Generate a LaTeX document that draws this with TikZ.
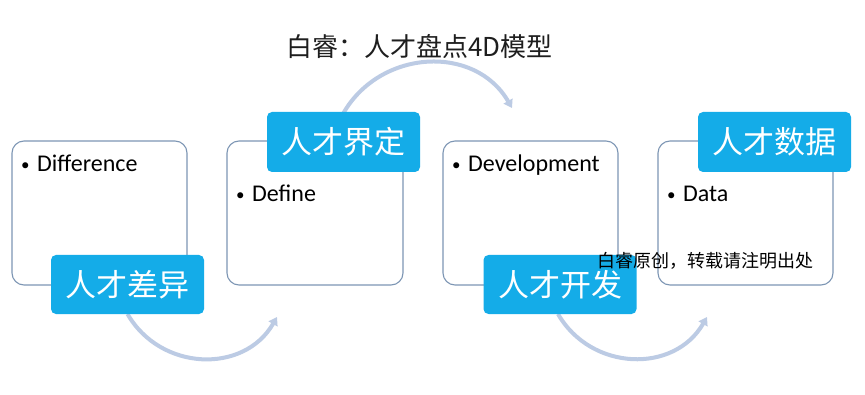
\documentclass[tikz,border=0pt]{standalone}
\usepackage{fontspec}
\setmainfont{Carlito}
\newfontfamily\cjk{Noto Sans CJK SC}
\usetikzlibrary{arrows.meta}
\definecolor{labelblue}{RGB}{20,172,232}
\definecolor{boxline}{RGB}{125,150,180}
\definecolor{arcgray}{RGB}{188,203,228}
\definecolor{titlegray}{RGB}{30,30,30}
\newcommand{\bulletmark}{\makebox[17pt][l]{\hspace{1pt}\raisebox{1.5pt}{\fontsize{17}{17}\selectfont•}}}
\begin{document}
\begin{tikzpicture}[x=1pt,y=1pt,
  card/.style={draw=boxline, line width=1.1pt, rounded corners=12pt, fill=white,
    minimum width=175pt, minimum height=144pt, inner sep=0pt},
  tag/.style={fill=labelblue, rounded corners=5pt, text=white,
    font=\cjk\fontsize{31}{31}\selectfont, minimum width=153pt, minimum height=59pt, inner sep=0pt},
  bul/.style={anchor=base west, inner sep=0pt, font=\fontsize{24}{28}\selectfont},
  flow/.style={draw=arcgray, line width=4pt, -{Triangle[length=8pt,width=10pt]}, looseness=1.13},
]
\useasboundingbox[fill=white] (0,0) rectangle (865,394);

% title
\node[font=\cjk\fontsize{26}{26}\selectfont, text=titlegray] (title) at (419.5,348) {白睿：人才盘点4D模型};

% cards
\node[card] (c1) at (99.5,181) {};
\node[card, minimum width=176pt] (c2) at (315,181) {};
\node[card] (c3) at (530.5,181) {};
\node[card] (c4) at (745.5,181) {};

% bullet texts
\node[bul] (t1) at (20,222) {\bulletmark Difference};
\node[bul] (t2) at (235,192) {\bulletmark Define};
\node[bul] (t3) at (451,222) {\bulletmark Development};
\node[bul] (t4) at (666,192) {\bulletmark Data};

% arc end points
\coordinate (e1) at (277,77);
\coordinate (e2) at (512,286);
\coordinate (e3) at (707,77);

% arc start points (under the labels)
\coordinate (s1) at (127.5,80);
\coordinate (s2) at (343.5,281);
\coordinate (s3) at (558,80);

% arcs
\draw[flow] (s1) to[out=-60,in=240] (e1);
\draw[flow, looseness=1.12] (s2) to[out=60,in=120] (e2);
\draw[flow] (s3) to[out=-60,in=240] (e3);

% blue labels
\node[tag] (l1) at (127.5,109.5) {人才差异};
\node[tag, minimum height=60pt] (l2) at (343.5,252) {人才界定};
\node[tag] (l3) at (560,109.5) {人才开发};
\node[tag, minimum height=60pt] (l4) at (774.5,252) {人才数据};

% watermark
\node[font=\cjk\fontsize{18}{18}\selectfont, text=black, inner sep=0pt] (wm) at (705,133) {白睿原创，转载请注明出处};
\end{tikzpicture}
\end{document}
